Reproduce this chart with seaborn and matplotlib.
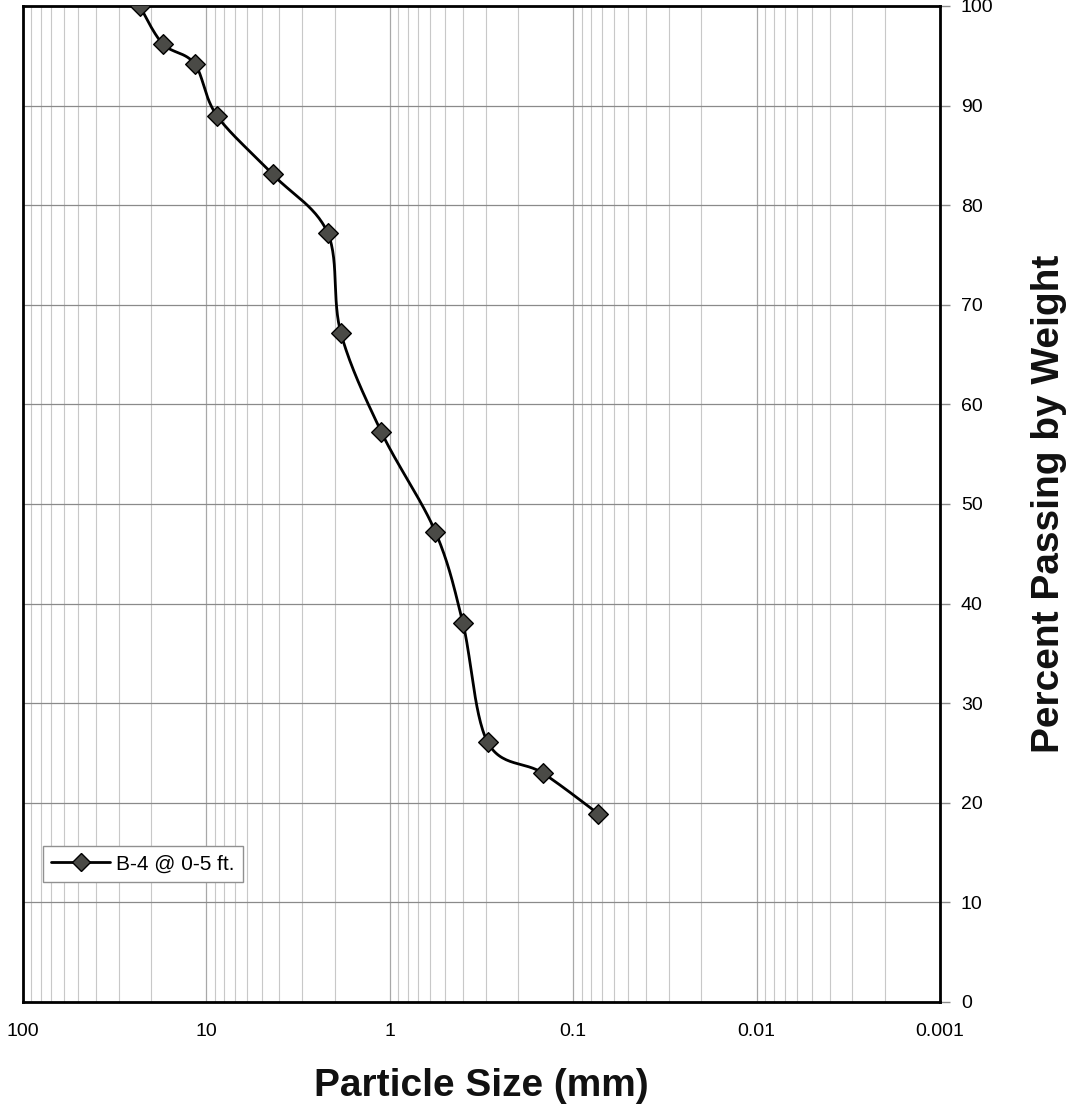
import numpy as np
import pandas as pd
import matplotlib
matplotlib.use("Agg")
import matplotlib.pyplot as plt
from matplotlib.lines import Line2D
from matplotlib.ticker import FixedLocator, LogLocator, NullFormatter
import seaborn as sns

# ---- data ----
particle_size_mm = [23.1, 17.3, 11.6, 8.77, 4.35, 2.18, 1.85, 1.11, 0.564, 0.40, 0.293, 0.147, 0.073]
percent_passing = [100.0, 96.2, 94.2, 89.0, 83.1, 77.2, 67.2, 57.2, 47.2, 38.1, 26.1, 23.0, 18.9]
series_label = "B-4 @ 0-5 ft."
x_tick_values = [100, 10, 1, 0.1, 0.01, 0.001]
x_tick_labels = ["100", "10", "1", "0.1", "0.01", "0.001"]
y_tick_values = [0, 10, 20, 30, 40, 50, 60, 70, 80, 90, 100]

df = pd.DataFrame({"size": particle_size_mm, "passing": percent_passing})

# smoothed line (Excel-style smoothing in log-x space), for drawing only
def smooth_curve(xs, ys, n=30):
    lx = np.log10(np.asarray(xs, float))
    yy = np.asarray(ys, float)
    P = np.column_stack([lx, yy])
    P = np.vstack([P[0], P, P[-1]])
    out = []
    for i in range(1, len(P) - 2):
        p0, p1, p2, p3 = P[i - 1], P[i], P[i + 1], P[i + 2]
        c1 = p1 + (p2 - p0) / 6.0
        c2 = p2 - (p3 - p1) / 6.0
        t = np.linspace(0, 1, n)[:, None]
        seg = ((1 - t) ** 3) * p1 + 3 * ((1 - t) ** 2) * t * c1 + 3 * (1 - t) * t ** 2 * c2 + t ** 3 * p2
        out.append(seg if i == 1 else seg[1:])
    S = np.vstack(out)
    return pd.DataFrame({"size": 10 ** S[:, 0], "passing": S[:, 1]})

curve = smooth_curve(particle_size_mm, percent_passing)

sns.set_style("white")
plt.rcParams["font.family"] = ["Liberation Sans", "DejaVu Sans"]
plt.rcParams["text.color"] = "black"
plt.rcParams["axes.labelcolor"] = "black"
plt.rcParams["xtick.color"] = "black"
plt.rcParams["ytick.color"] = "black"

fig = plt.figure(figsize=(10.69, 11.09), dpi=100)
ax = fig.add_axes([23 / 1069, 1 - 1002 / 1109, (940 - 23) / 1069, (1002 - 6) / 1109])

ax.set_xscale("log")
ax.set_xlim(100, 0.001)
ax.set_ylim(0, 100)

# grid
ax.xaxis.set_major_locator(FixedLocator(x_tick_values))
ax.xaxis.set_minor_locator(LogLocator(base=10, subs=np.arange(2, 10), numticks=100))
ax.xaxis.set_minor_formatter(NullFormatter())
ax.set_xticklabels(x_tick_labels)
ax.yaxis.set_major_locator(FixedLocator(y_tick_values))
ax.grid(which="major", axis="y", color="#8a8a8a", lw=0.9)
ax.grid(which="major", axis="x", color="#a8a8a8", lw=0.9)
ax.grid(which="minor", axis="x", color="#c8c8c8", lw=0.8)
ax.set_axisbelow(True)

sns.lineplot(data=curve, x="size", y="passing", ax=ax, color="black", lw=2.0,
             sort=False, estimator=None, legend=False, zorder=3)
sns.scatterplot(data=df, x="size", y="passing", ax=ax, marker="D", s=100,
                color="#4a4a46", edgecolor="black", linewidth=1.0, legend=False, zorder=4)

for s in ax.spines.values():
    s.set_color("black")
    s.set_linewidth(2.0)

ax.yaxis.tick_right()
ax.yaxis.set_label_position("right")
ax.tick_params(axis="y", which="major", direction="out", length=7, width=1, color="#8a8a8a",
               labelcolor="black", labelsize=14, pad=8, right=True, left=False)
ax.tick_params(axis="x", which="both", length=0, labelsize=14, pad=15, labelcolor="black")

ax.set_xlabel("Particle Size (mm)", fontsize=28, fontweight="bold", labelpad=20, color="#111111")
ax.set_ylabel("Percent Passing by Weight", fontsize=28, fontweight="bold", labelpad=27, color="#111111")

handle = Line2D([0], [0], color="black", lw=2.0, marker="D", markersize=9,
                markerfacecolor="#4a4a46", markeredgecolor="black")
leg = ax.legend([handle], [series_label], loc="upper left",
                bbox_to_anchor=((43 - 23) / 917, (1002 - 846) / 996),
                borderaxespad=0, fontsize=15, frameon=True, fancybox=False,
                framealpha=1, edgecolor="#909090", handlelength=2.8,
                handletextpad=0.3, borderpad=0.4)
leg.get_frame().set_linewidth(1.0)
for t in leg.get_texts():
    t.set_color("black")

fig.savefig("out.png", dpi=100)
